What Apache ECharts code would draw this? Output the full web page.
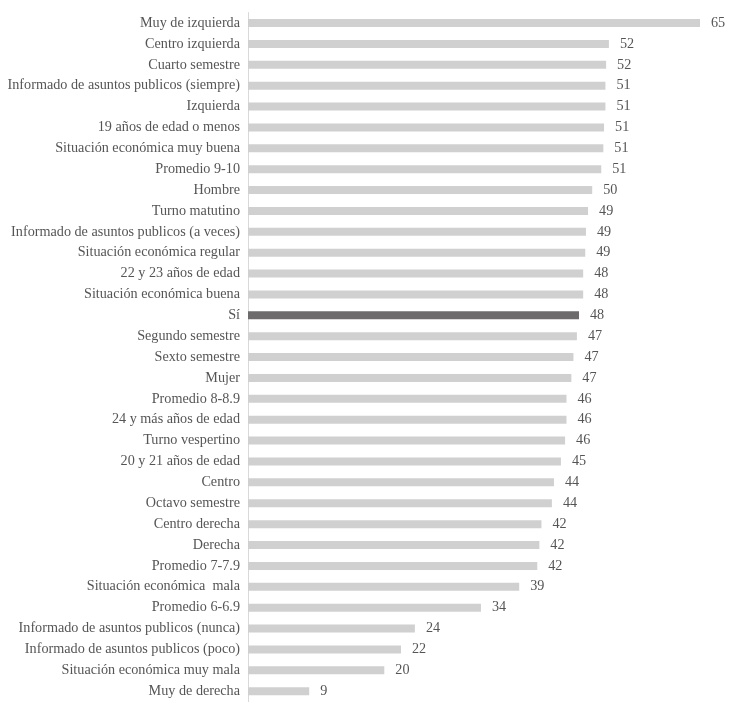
<!DOCTYPE html>
<html>
<head>
<meta charset="utf-8">
<script src="https://cdn.jsdelivr.net/npm/echarts@6/dist/echarts.min.js"></script>
<style>html,body{margin:0;padding:0;background:#fff}#c{width:737px;height:705px}</style>
</head>
<body>
<div id="c"></div>
<script>
const categories = [
  "Muy de izquierda","Centro izquierda","Cuarto semestre","Informado de asuntos publicos (siempre)",
  "Izquierda","19 años de edad o menos","Situación económica muy buena","Promedio 9-10","Hombre",
  "Turno matutino","Informado de asuntos publicos (a veces)","Situación económica regular",
  "22 y 23 años de edad","Situación económica buena","Sí","Segundo semestre","Sexto semestre","Mujer",
  "Promedio 8-8.9","24 y más años de edad","Turno vespertino","20 y 21 años de edad","Centro",
  "Octavo semestre","Centro derecha","Derecha","Promedio 7-7.9","Situación económica  mala",
  "Promedio 6-6.9","Informado de asuntos publicos (nunca)","Informado de asuntos publicos (poco)",
  "Situación económica muy mala","Muy de derecha"
];
const values = [
  65.0,51.9,51.5,51.4,51.4,51.2,51.1,50.8,49.5,48.9,48.6,48.5,48.2,48.2,47.6,47.3,46.8,46.5,
  45.8,45.8,45.6,45.0,44.0,43.7,42.2,41.9,41.6,39.0,33.5,24.0,22.0,19.6,8.8
];
const highlight = "Sí";

const chart = echarts.init(document.getElementById('c'));
chart.setOption({
  animation: false,
  grid: {left: 248, top: 12.6, width: 452, height: 689, containLabel: false},
  xAxis: {type: 'value', min: 0, max: 65, show: false},
  yAxis: {
    type: 'category', data: categories, inverse: true,
    axisLine: {show: true, lineStyle: {color: '#d9d9d9', width: 1}},
    axisTick: {show: false},
    axisLabel: {color: '#555555', fontFamily: 'Liberation Serif', fontSize: 14.2, margin: 8}
  },
  series: [{
    type: 'bar', barWidth: 8,
    data: values.map((v, i) => ({
      value: v,
      itemStyle: {color: categories[i] === highlight ? '#6e6b6c' : '#d0d0d0'}
    })),
    label: {
      show: true, position: 'right', distance: 11,
      color: '#555555', fontFamily: 'Liberation Serif', fontSize: 14.2,
      formatter: p => Math.round(p.value)
    }
  }]
});
</script>
</body>
</html>
